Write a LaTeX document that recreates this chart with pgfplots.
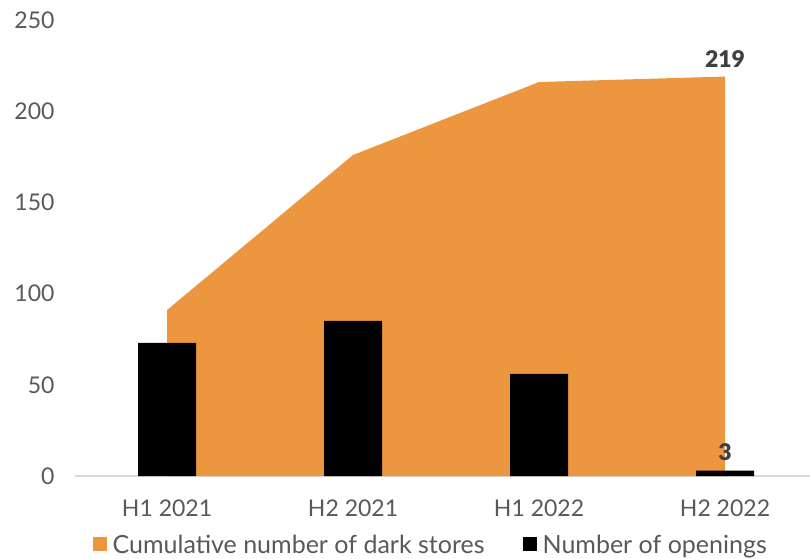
\documentclass[border=0pt]{standalone}
\usepackage{pgfplots}
\pgfplotsset{compat=1.18}
\usepackage{fontspec}
\setmainfont{Lato}
\newfontfamily\blk{Lato Black}
\definecolor{orng}{HTML}{ED9640}
\definecolor{lbl}{HTML}{595959}
\definecolor{dlbl}{HTML}{404040}
\begin{document}
\begin{tikzpicture}
\useasboundingbox (0,0) rectangle (810pt,558pt);
\begin{axis}[
  at={(75pt,82pt)}, anchor=south west,
  scale only axis, width=735pt, height=456pt,
  xmin=-0.495, xmax=3.457,
  ymin=0, ymax=250,
  ytick={0,50,100,150,200,250},
  xtick={0,1,2,3},
  xticklabels={H1 2021,H2 2021,H1 2022,H2 2022},
  major tick length=0pt,
  axis x line*=bottom, axis y line*=left,
  x axis line style={-, draw=black!15, line width=1.5pt},
  y axis line style={draw=none},
  /pgf/number format/assume math mode=true,
  tick label style={font=\fontsize{23}{27}\selectfont, text=lbl},
  yticklabel style={xshift=-17pt},
  xticklabel style={yshift=-20pt},
  legend style={at={(0.484,-0.151)}, anchor=center, draw=none, fill=none,
    font=\fontsize{25}{29}\selectfont, text=lbl, legend columns=2,
    /tikz/every even column/.append style={column sep=36pt}},
  clip=false,
]
\addplot[fill=orng, draw=none,
  legend image code/.code={\fill[orng] (0pt,-6pt) rectangle (14pt,8pt);}]
  coordinates {(0,91) (1,176) (2,216) (3,219)} \closedcycle;
\addlegendentry{\hspace{4pt}Cumulative number of dark stores}
\addplot[ybar, bar width=0.312, fill=black, draw=none,
  legend image code/.code={\fill[black] (0pt,-6pt) rectangle (14pt,8pt);}]
  coordinates {(0,73) (1,85) (2,56) (3,3)};
\addlegendentry{\hspace{4pt}Number of openings}
\addplot[draw=none, mark=none, forget plot,
  nodes near coords, point meta=explicit symbolic,
  every node near coord/.style={font=\fontsize{23}{27}\selectfont\blk, text=dlbl, anchor=south, yshift=6pt}]
  coordinates {(3,219) [219] (3,3) [3]};
\end{axis}
\end{tikzpicture}
\end{document}
